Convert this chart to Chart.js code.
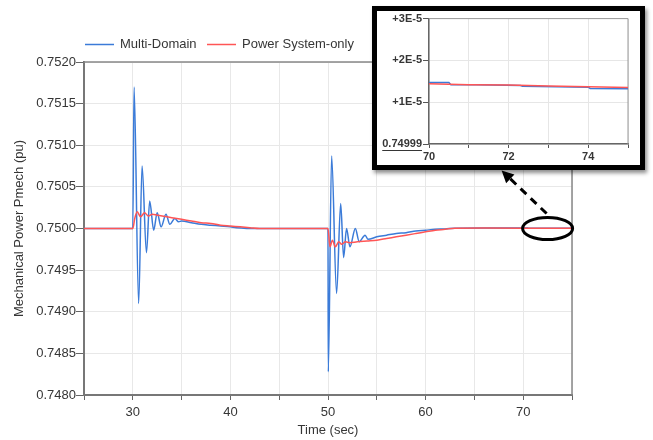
<!DOCTYPE html>
<html lang="en">
<head>
<meta charset="UTF-8">
<title>Mechanical Power Pmech</title>
<script src="https://cdn.jsdelivr.net/npm/chart.js"></script>
<style>
    body {
        margin: 0;
        background: #fff;
        font-family: "Liberation Sans", Arial, sans-serif;
    }

    .wrap {
        position: relative;
        width: 653px;
        height: 440px;
    }

    #mainChart {
        position: absolute;
        left: 0;
        top: 0;
    }

    .inset {
        position: absolute;
        left: 372px;
        top: 6px;
        width: 263px;
        height: 154px;
        border: 5px solid #000;
        background: #fff;
        box-shadow: 2px 3px 4px rgba(0, 0, 0, 0.45);
    }

    .inset canvas {
        display: block;
    }
</style>
</head>
<body>
<div class="wrap">
    <canvas id="mainChart" width="653" height="440"></canvas>
    <div class="inset"><canvas id="insetChart" width="263" height="154"></canvas></div>
</div>

<script>
    // Multi-Domain series (time in sec, Pmech in pu)
    const mdTime = [25, 30.0, 30.13, 30.6, 30.95, 31.4, 31.73, 32.14, 32.5, 32.9, 33.4, 33.8, 34.3, 34.7,
        35, 36, 37, 38, 39, 40, 40.6, 43,
        50.0, 50.03, 50.37, 50.88, 51.3, 51.6, 51.9, 52.25, 52.8, 53.2, 53.8, 54.1,
        55, 56, 57, 58, 59, 60, 61, 62, 63, 66,
        70, 70.5, 70.55, 71.2, 72.3, 72.35, 73.2, 74.0, 74.05, 75];
    const mdValue = [0.75, 0.75, 0.7517, 0.7491, 0.75075, 0.74971, 0.75033, 0.74998, 0.75019, 0.75002, 0.75017, 0.75005, 0.75012, 0.75008,
        0.75009, 0.75007, 0.75005, 0.75004, 0.75003, 0.75002, 0.75001, 0.75,
        0.75, 0.74828, 0.75087, 0.74922, 0.7503, 0.74965, 0.75, 0.74978, 0.75, 0.74984, 0.74992, 0.74987,
        0.7499, 0.74992, 0.74994, 0.74995, 0.74997, 0.74998, 0.74999, 0.749995, 0.750003, 0.7500048,
        0.7500047, 0.7500047, 0.7500042, 0.7500042, 0.750004, 0.7500038, 0.7500037, 0.7500036, 0.7500033, 0.7500032];

    // Power System-only series
    const psTime = [25, 30.0, 30.2, 30.45, 30.8, 31.2, 31.6, 32.0, 32.5, 33, 34, 35, 36, 37, 38, 39, 40, 41, 42, 43,
        50.0, 50.2, 50.45, 50.75, 51.1, 51.4, 51.8, 52.2, 53, 54, 55, 56, 57, 58, 59, 60, 61, 62, 63, 66,
        70, 71, 72, 73, 74, 75];
    const psValue = [0.75, 0.75, 0.75012, 0.7502, 0.75014, 0.75019, 0.75015, 0.75017, 0.75016, 0.75015, 0.75013, 0.75011, 0.75009, 0.75007, 0.75006, 0.75004, 0.75003, 0.75002, 0.75001, 0.75,
        0.75, 0.74978, 0.74986, 0.74978, 0.74984, 0.74981, 0.74984, 0.74983, 0.74984, 0.74985, 0.74986, 0.74988, 0.7499, 0.74992, 0.74994, 0.74996, 0.74998, 0.74999, 0.750003, 0.7500048,
        0.7500044, 0.7500042, 0.7500041, 0.7500039, 0.7500037, 0.7500035];

    const seriesNames = ['Multi-Domain', 'Power System-only'];

    // main chart ticks
    const xTickValues = [25, 30, 35, 40, 45, 50, 55, 60, 65, 70, 75];
    const xTickLabels = [30, 40, 50, 60, 70];
    const yTickValues = [0.748, 0.7485, 0.749, 0.7495, 0.75, 0.7505, 0.751, 0.7515, 0.752];
    const yTickLabels = ['0.7480', '0.7485', '0.7490', '0.7495', '0.7500', '0.7505', '0.7510', '0.7515', '0.7520'];

    // inset ticks
    const insetXTickValues = [70, 71, 72, 73, 74, 75];
    const insetXTickLabels = [70, 72, 74];
    const insetYTickValues = [0.74999, 0.75, 0.75001, 0.75002];
    const insetYTickLabels = ['0.74999', '+1E-5', '+2E-5', '+3E-5'];

    const BLUE = '#3b7bd8';
    const RED = '#ff5555';
    const TEXT = '#363636';
    const FONT = '"Liberation Sans", Arial, sans-serif';

    Chart.defaults.font.family = FONT;
    Chart.defaults.color = TEXT;

    function toPoints(ts, vs, fromT) {
        let pts = [];
        for (let i = 0; i < ts.length; i++) {
            if (fromT === undefined || ts[i] >= fromT) pts.push({ x: ts[i], y: vs[i] });
        }
        return pts;
    }

    // top + right frame of a plot area
    function framePlugin(color, width) {
        return {
            id: 'frame',
            beforeDatasetsDraw(chart) {
                const a = chart.chartArea, ctx = chart.ctx;
                ctx.save();
                ctx.strokeStyle = color;
                ctx.lineWidth = width;
                ctx.beginPath();
                ctx.moveTo(a.left, a.top);
                ctx.lineTo(a.right, a.top);
                ctx.lineTo(a.right, a.bottom);
                ctx.stroke();
                ctx.restore();
            }
        };
    }

    const legendPlugin = {
        id: 'customLegend',
        afterDraw(chart) {
            const ctx = chart.ctx;
            const items = [
                { x: 85, color: BLUE, text: seriesNames[0] },
                { x: 207, color: RED, text: seriesNames[1] }
            ];
            ctx.save();
            ctx.font = '13px ' + FONT;
            ctx.textBaseline = 'middle';
            items.forEach(it => {
                ctx.strokeStyle = it.color;
                ctx.lineWidth = 1.5;
                ctx.beginPath();
                ctx.moveTo(it.x, 44.5);
                ctx.lineTo(it.x + 29, 44.5);
                ctx.stroke();
                ctx.fillStyle = TEXT;
                ctx.fillText(it.text, it.x + 35, 44);
            });
            ctx.restore();
        }
    };

    // ellipse around the zoomed region and dashed arrow to the inset
    const calloutPlugin = {
        id: 'callout',
        afterDraw(chart) {
            const ctx = chart.ctx;
            const cx = chart.scales.x.getPixelForValue(72.5);
            const cy = chart.scales.y.getPixelForValue(0.75);
            ctx.save();
            ctx.strokeStyle = '#000';
            ctx.fillStyle = '#000';
            ctx.lineWidth = 3;
            ctx.beginPath();
            ctx.ellipse(cx, cy, 25, 11, 0, 0, Math.PI * 2);
            ctx.stroke();

            const sx = cx - 1, sy = cy - 15;
            const tx = cx - 46, ty = cy - 58;
            const len = Math.hypot(tx - sx, ty - sy);
            const ux = (tx - sx) / len, uy = (ty - sy) / len;
            ctx.setLineDash([8, 6]);
            ctx.beginPath();
            ctx.moveTo(sx, sy);
            ctx.lineTo(tx - ux * 10, ty - uy * 10);
            ctx.stroke();
            ctx.setLineDash([]);
            ctx.beginPath();
            ctx.moveTo(tx, ty);
            ctx.lineTo(tx - ux * 12 - uy * 6, ty - uy * 12 + ux * 6);
            ctx.lineTo(tx - ux * 12 + uy * 6, ty - uy * 12 - ux * 6);
            ctx.closePath();
            ctx.fill();
            ctx.restore();
        }
    };

    new Chart(document.getElementById('mainChart'), {
        type: 'line',
        data: {
            datasets: [
                {
                    label: seriesNames[0],
                    data: toPoints(mdTime, mdValue),
                    borderColor: BLUE,
                    borderWidth: 1.5,
                    pointRadius: 0,
                    cubicInterpolationMode: 'monotone',
                    fill: false,
                    order: 2
                },
                {
                    label: seriesNames[1],
                    data: toPoints(psTime, psValue),
                    borderColor: RED,
                    borderWidth: 1.5,
                    pointRadius: 0,
                    cubicInterpolationMode: 'monotone',
                    fill: false,
                    order: 1
                }
            ]
        },
        options: {
            responsive: false,
            animation: false,
            layout: { padding: { top: 62, right: 81, left: 0, bottom: 0 } },
            plugins: {
                legend: { display: false },
                tooltip: { enabled: false }
            },
            scales: {
                x: {
                    type: 'linear',
                    min: 25,
                    max: 75,
                    afterFit: s => { s.height = 45; },
                    afterBuildTicks: s => { s.ticks = xTickValues.map(v => ({ value: v })); },
                    ticks: {
                        autoSkip: false,
                        maxRotation: 0,
                        padding: 5,
                        color: TEXT,
                        font: { size: 13 },
                        callback: v => xTickLabels.includes(v) ? String(v) : ''
                    },
                    grid: { color: '#e8e8e8', tickColor: '#666', tickLength: 5 },
                    border: { color: '#777', width: 2 },
                    title: {
                        display: true,
                        text: 'Time (sec)',
                        color: TEXT,
                        font: { size: 13 },
                        padding: { top: 0, bottom: 2 }
                    }
                },
                y: {
                    type: 'linear',
                    min: 0.748,
                    max: 0.752,
                    afterFit: s => { s.width = 84; },
                    afterBuildTicks: s => { s.ticks = yTickValues.map(v => ({ value: v })); },
                    ticks: {
                        padding: 0,
                        color: TEXT,
                        font: { size: 13 },
                        callback: (v, i) => yTickLabels[i]
                    },
                    grid: { color: '#e8e8e8', tickColor: '#666', tickLength: 8 },
                    border: { color: '#777', width: 2 },
                    title: {
                        display: true,
                        text: 'Mechanical Power Pmech (pu)',
                        color: TEXT,
                        font: { size: 13 },
                        padding: { top: 12, bottom: 0 }
                    }
                }
            }
        },
        plugins: [framePlugin('#888', 1.5), legendPlugin, calloutPlugin]
    });

    const underlinePlugin = {
        id: 'underlineBase',
        afterDraw(chart) {
            const ys = chart.scales.y, ctx = chart.ctx;
            const y = ys.getPixelForValue(insetYTickValues[0]);
            ctx.save();
            ctx.font = 'bold 11px ' + FONT;
            const w = ctx.measureText(insetYTickLabels[0]).width;
            const right = ys.right - 7;
            ctx.strokeStyle = TEXT;
            ctx.lineWidth = 1;
            ctx.beginPath();
            ctx.moveTo(right - w, y + 6.5);
            ctx.lineTo(right, y + 6.5);
            ctx.stroke();
            ctx.restore();
        }
    };

    new Chart(document.getElementById('insetChart'), {
        type: 'line',
        data: {
            datasets: [
                {
                    data: toPoints(mdTime, mdValue, 70),
                    borderColor: BLUE,
                    borderWidth: 1.5,
                    pointRadius: 0,
                    order: 2
                },
                {
                    data: toPoints(psTime, psValue, 70),
                    borderColor: RED,
                    borderWidth: 1.5,
                    pointRadius: 0,
                    order: 1
                }
            ]
        },
        options: {
            responsive: false,
            animation: false,
            layout: { padding: { top: 7, right: 12, left: 0, bottom: 0 } },
            plugins: {
                legend: { display: false },
                tooltip: { enabled: false }
            },
            scales: {
                x: {
                    type: 'linear',
                    min: 70,
                    max: 75,
                    afterFit: s => { s.height = 21; },
                    afterBuildTicks: s => { s.ticks = insetXTickValues.map(v => ({ value: v })); },
                    ticks: {
                        autoSkip: false,
                        maxRotation: 0,
                        padding: 2,
                        color: TEXT,
                        font: { size: 11, weight: 'bold' },
                        callback: v => insetXTickLabels.includes(v) ? String(v) : ''
                    },
                    grid: { color: '#e6e6e6', tickColor: '#555', tickLength: 4 },
                    border: { color: '#666', width: 1.5 }
                },
                y: {
                    type: 'linear',
                    min: 0.74999,
                    max: 0.75002,
                    afterFit: s => { s.width = 52; },
                    afterBuildTicks: s => { s.ticks = insetYTickValues.map(v => ({ value: v })); },
                    ticks: {
                        padding: 1,
                        color: TEXT,
                        font: { size: 11, weight: 'bold' },
                        callback: (v, i) => insetYTickLabels[i]
                    },
                    grid: { color: '#e6e6e6', tickColor: '#555', tickLength: 6 },
                    border: { color: '#666', width: 1.5 }
                }
            }
        },
        plugins: [framePlugin('#999', 1), underlinePlugin]
    });
</script>
</body>
</html>
